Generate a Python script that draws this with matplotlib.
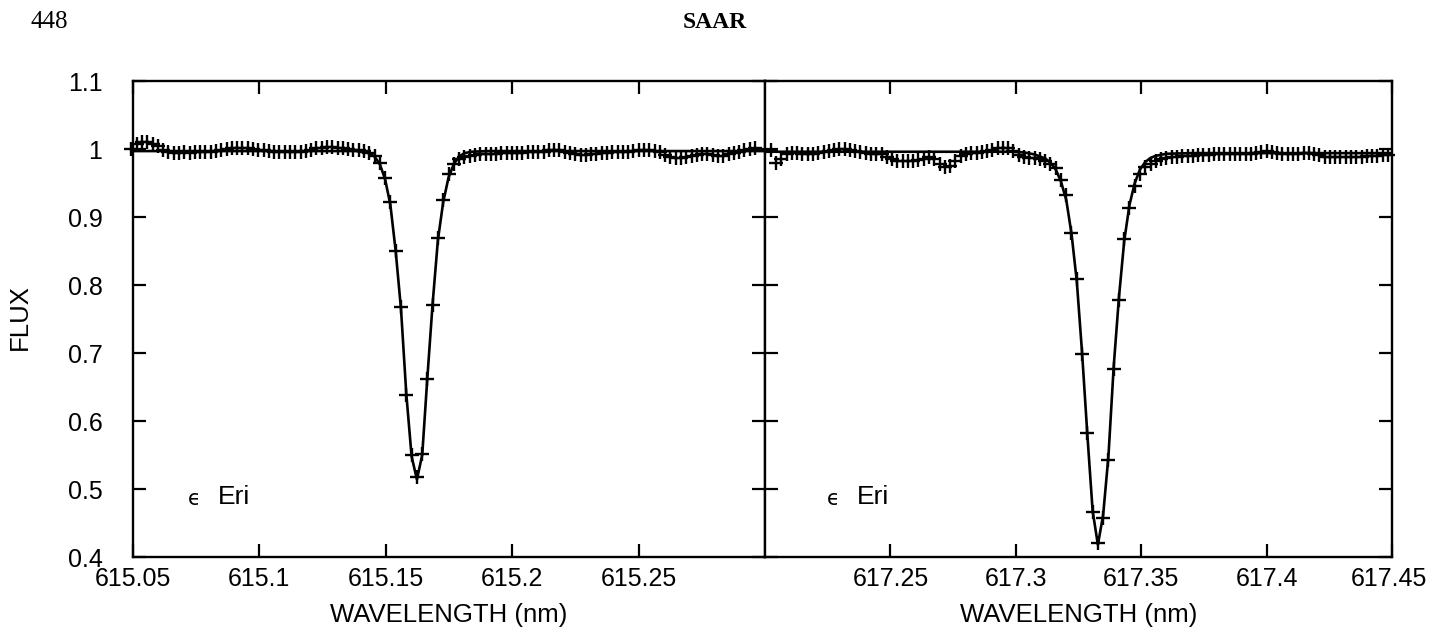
import numpy as np
import matplotlib
matplotlib.use('Agg')
import matplotlib.pyplot as plt
from matplotlib.ticker import FuncFormatter
from matplotlib.transforms import ScaledTranslation

plt.rcParams['font.family'] = ['Liberation Sans', 'DejaVu Sans']

# observed spectrum, one value per detector pixel
# Fe I 615.16 nm
wl0_left, step_left = 615.0494, 0.00209
flux_left = [
    1.000, 1.007, 1.010, 1.010, 1.008, 1.004, 0.999, 0.996, 0.994, 0.994,
    0.995, 0.994, 0.995, 0.995, 0.996, 0.996, 0.997, 0.999, 1.000, 1.001,
    1.002, 1.002, 1.001, 1.000, 0.999, 0.998, 0.997, 0.996, 0.996, 0.995,
    0.995, 0.995, 0.996, 0.997, 0.999, 1.001, 1.002, 1.003, 1.003, 1.002,
    1.001, 1.000, 0.999, 0.998, 0.997, 0.994, 0.990, 0.980, 0.958, 0.922,
    0.850, 0.768, 0.639, 0.550, 0.517, 0.551, 0.662, 0.771, 0.869, 0.925,
    0.964, 0.978, 0.985, 0.988, 0.990, 0.991, 0.992, 0.993, 0.993, 0.993,
    0.994, 0.994, 0.994, 0.994, 0.994, 0.995, 0.995, 0.995, 0.996, 0.998,
    0.999, 0.998, 0.996, 0.994, 0.992, 0.991, 0.991, 0.992, 0.993, 0.994,
    0.994, 0.995, 0.995, 0.996, 0.996, 0.997, 0.998, 0.998, 0.998, 0.997,
    0.995, 0.991, 0.988, 0.987, 0.987, 0.988, 0.990, 0.991, 0.992, 0.992,
    0.991, 0.990, 0.990, 0.992, 0.994, 0.996, 0.998, 1.000, 1.001,
]

# Fe I 617.33 nm
wl0_right, step_right = 617.20229, 0.002103
flux_right = [
    0.998, 0.980, 0.985, 0.992, 0.994, 0.994, 0.993, 0.993, 0.993, 0.994,
    0.995, 0.997, 0.999, 1.000, 1.000, 0.999, 0.997, 0.995, 0.994, 0.993,
    0.993, 0.992, 0.989, 0.985, 0.983, 0.982, 0.982, 0.982, 0.984, 0.986,
    0.988, 0.985, 0.978, 0.973, 0.975, 0.983, 0.990, 0.993, 0.994, 0.994,
    0.995, 0.997, 0.999, 1.001, 1.002, 1.001, 0.997, 0.991, 0.988, 0.987,
    0.987, 0.986, 0.983, 0.978, 0.972, 0.955, 0.932, 0.877, 0.809, 0.698,
    0.583, 0.466, 0.420, 0.458, 0.543, 0.676, 0.778, 0.868, 0.913, 0.946,
    0.963, 0.973, 0.978, 0.982, 0.985, 0.987, 0.988, 0.989, 0.990, 0.990,
    0.990, 0.991, 0.991, 0.991, 0.992, 0.992, 0.992, 0.993, 0.993, 0.992,
    0.992, 0.993, 0.994, 0.996, 0.997, 0.996, 0.994, 0.993, 0.993, 0.992,
    0.993, 0.994, 0.994, 0.993, 0.991, 0.989, 0.988, 0.988, 0.988, 0.988,
    0.989, 0.989, 0.989, 0.990, 0.990, 0.990, 0.991, 0.991,
]

# model fits
model_left_wl = [615.050, 615.138, 615.1435, 615.1455, 615.1476, 615.1497,
                 615.1518, 615.1539, 615.1560, 615.1581, 615.1602, 615.1623,
                 615.1644, 615.1664, 615.1685, 615.1706, 615.1727, 615.1748,
                 615.1769, 615.1790, 615.1811, 615.184, 615.190, 615.300]
model_left_flux = [0.997, 0.997, 0.994, 0.989, 0.978, 0.956,
                   0.918, 0.850, 0.765, 0.640, 0.548, 0.514,
                   0.550, 0.662, 0.772, 0.866, 0.922, 0.958,
                   0.978, 0.989, 0.994, 0.996, 0.997, 0.997]

model_right_wl = [617.200, 617.298, 617.3033, 617.3075, 617.3117, 617.3138,
                  617.3159, 617.3180, 617.3201, 617.3222, 617.3243, 617.3264,
                  617.3285, 617.3306, 617.3327, 617.3348, 617.3369, 617.3390,
                  617.3411, 617.3432, 617.3453, 617.3474, 617.3495, 617.3516,
                  617.3537, 617.3558, 617.360, 617.370, 617.450]
model_right_flux = [0.996, 0.996, 0.995, 0.992, 0.986, 0.980,
                    0.970, 0.952, 0.925, 0.875, 0.805, 0.700,
                    0.580, 0.468, 0.418, 0.462, 0.548, 0.680,
                    0.782, 0.865, 0.918, 0.950, 0.970, 0.981,
                    0.987, 0.990, 0.993, 0.994, 0.994]

xticks_left = [615.05, 615.1, 615.15, 615.2, 615.25]
xticks_right = [617.25, 617.3, 617.35, 617.4, 617.45]
yticks = [0.4, 0.5, 0.6, 0.7, 0.8, 0.9, 1.0, 1.1]
star = 'Eri'

wl_left = wl0_left + step_left * np.arange(len(flux_left))
wl_right = wl0_right + step_right * np.arange(len(flux_right))

fig = plt.figure(figsize=(14.3, 6.35), dpi=100)
ax1 = fig.add_axes([0.0930, 0.1228, 0.4420, 0.7496])
ax2 = fig.add_axes([0.5350, 0.1228, 0.4385, 0.7496])

fmt = FuncFormatter(lambda v, p: '{0:g}'.format(round(v, 3)))

panels = [
    (ax1, wl_left, flux_left, model_left_wl, model_left_flux, (615.05, 615.30), xticks_left, 615.0716),
    (ax2, wl_right, flux_right, model_right_wl, model_right_flux, (617.20, 617.45), xticks_right, 617.2245),
]

for ax, wl, fl, mwl, mfl, xlim, xt, xtxt in panels:
    ax.plot(mwl, mfl, color='black', lw=1.9, zorder=2)
    ax.plot(wl, fl, ls='none', marker='+', ms=10, mew=1.7, color='black',
            clip_on=False, zorder=3)
    ax.set_xlim(*xlim)
    ax.set_ylim(0.4, 1.1)
    ax.set_xticks(xt)
    ax.set_yticks(yticks)
    ax.xaxis.set_major_formatter(fmt)
    ax.tick_params(direction='in', length=9.5, width=1.6, top=True, right=True,
                   labelsize=18, pad=7)
    ax.tick_params(axis='y', pad=22)
    for sp in ax.spines.values():
        sp.set_linewidth(1.7)
    ax.set_xlabel('WAVELENGTH (nm)', fontsize=18.5, labelpad=9)
    ax.text(xtxt, 0.486, '\u03f5', fontsize=15, ha='left', va='center',
            family=['DejaVu Sans'])
    ax.text(xtxt + 0.012, 0.489, star, fontsize=19, ha='left', va='center')

ax1.yaxis.set_major_formatter(fmt)
ax2.tick_params(axis='y', labelleft=False)

# keep the last label inside the page
fig.canvas.draw()
last = ax2.get_xticklabels()[-1]
last.set_transform(last.get_transform() + ScaledTranslation(-3 / 100, 0, fig.dpi_scale_trans))

fig.text(0.014, 0.5, 'FLUX', rotation=90, fontsize=18.5, ha='center', va='center')
fig.text(0.021, 0.965, '448', fontsize=18, ha='left', va='center',
         family='Liberation Serif')
fig.text(0.5, 0.965, 'SAAR', fontsize=17, ha='center', va='center',
         family='Liberation Serif', weight='bold')

fig.savefig('out.png', dpi=100)
